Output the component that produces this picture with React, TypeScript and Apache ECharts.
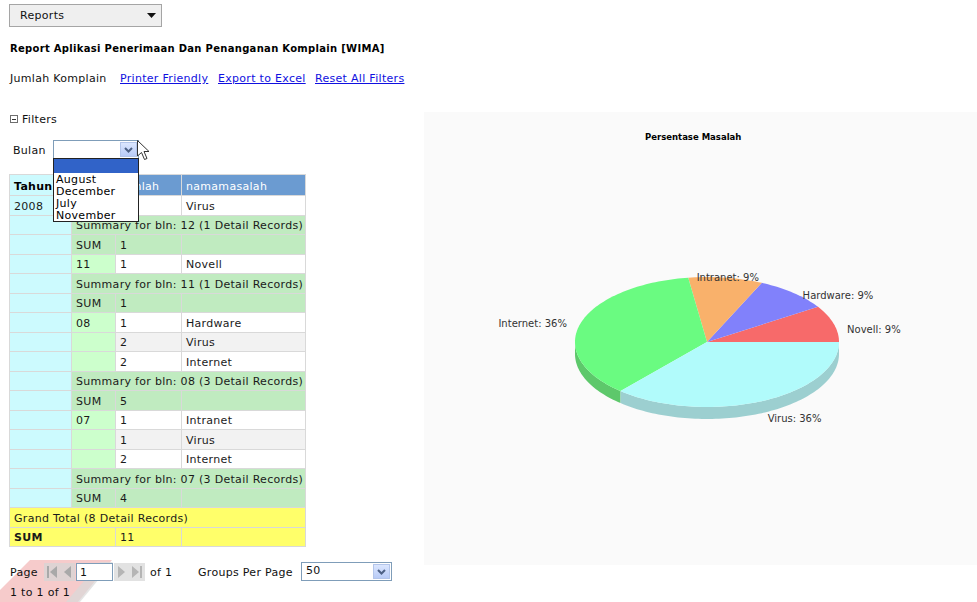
import React, { useEffect, useRef } from "react";
import * as echarts from "echarts";

// ---------- chart data ----------
const chartTitle = "Persentase Masalah";
const pieCategories = ["Novell", "Hardware", "Intranet", "Internet", "Virus"];
const pieValues = [1, 1, 1, 4, 4];
const pieColors = ["#f76a6a", "#8181fb", "#f9b16b", "#6afb81", "#b1fbfb"];
const pieSideColors = ["#c95656", "#6767cc", "#cc8f56", "#5dc86b", "#9ccfd0"];

// ---------- page / table data ----------
const menuLabel = "Reports";
const reportTitle = "Report Aplikasi Penerimaan Dan Penanganan Komplain [WIMA]";
const reportName = "Jumlah Komplain";
const linkLabels = ["Printer Friendly", "Export to Excel", "Reset All Filters"];
const filterLabel = "Bulan";
const monthOptions = ["August", "December", "July", "November"];
const headerLabels = ["Tahun", "bln", "jumlah", "namamasalah"];
const yearLabel = "2008";
const groupMonths = ["12", "11", "08", "07"];
const groupJumlah = [["1"], ["1"], ["1", "2", "2"], ["1", "1", "2"]];
const groupNama = [["Virus"], ["Novell"], ["Hardware", "Virus", "Internet"], ["Intranet", "Virus", "Internet"]];
const groupSums = ["1", "1", "5", "4"];
const grandSum = "11";
const pageValue = "1";
const pageCount = "1";
const groupsPerPage = "50";
const recordInfo = "1 to 1 of 1";

const FONT = "'DejaVu Sans', Verdana, sans-serif";

type Cell = {
  c0: number;
  c1: number;
  bg: string;
  text?: string;
  bold?: boolean;
  color?: string;
  covered?: boolean; // text hidden under the open dropdown list
  clipFrom?: number; // text partly hidden under the dropdown list
};

const colX = [10, 72, 116, 182, 306];
const C_CYAN = "#ccfafe";
const C_LGREEN = "#ccffcc";
const C_GREEN = "#c0ebc0";
const C_BLUE = "#6b9bd1";
const C_GRAY = "#f2f2f2";
const C_YELLOW = "#ffff6a";
const DROP_RIGHT = 139;

function buildRows(): Cell[][] {
  const rows: Cell[][] = [];
  let totalDetails = 0;
  groupMonths.forEach((m, gi) => {
    const jl = groupJumlah[gi];
    totalDetails += jl.length;
    jl.forEach((j, k) => {
      const bg = k % 2 === 1 ? C_GRAY : "#ffffff";
      const first = gi === 0 && k === 0;
      rows.push([
        { c0: 0, c1: 1, bg: C_CYAN, text: first ? yearLabel : "" },
        { c0: 1, c1: 2, bg: C_LGREEN, text: k === 0 ? m : "", covered: first },
        { c0: 2, c1: 3, bg, text: j, covered: first },
        { c0: 3, c1: 4, bg, text: groupNama[gi][k] },
      ]);
    });
    rows.push([
      { c0: 0, c1: 1, bg: C_CYAN },
      { c0: 1, c1: 4, bg: C_GREEN, text: `Summary for bln: ${m} (${jl.length} Detail Records)` },
    ]);
    rows.push([
      { c0: 0, c1: 1, bg: C_CYAN },
      { c0: 1, c1: 2, bg: C_GREEN, text: "SUM" },
      { c0: 2, c1: 3, bg: C_GREEN, text: groupSums[gi] },
      { c0: 3, c1: 4, bg: C_GREEN, text: "" },
    ]);
  });
  rows.push([{ c0: 0, c1: 4, bg: C_YELLOW, text: `Grand Total (${totalDetails} Detail Records)` }]);
  rows.push([
    { c0: 0, c1: 2, bg: C_YELLOW, text: "SUM", bold: true },
    { c0: 2, c1: 3, bg: C_YELLOW, text: grandSum },
    { c0: 3, c1: 4, bg: C_YELLOW, text: "" },
  ]);
  return rows;
}

const txt: React.CSSProperties = {
  position: "absolute",
  fontFamily: FONT,
  fontSize: 11,
  letterSpacing: 0.3,
  color: "#111",
  whiteSpace: "nowrap",
};

function PieChart() {
  const ref = useRef<HTMLDivElement>(null);
  useEffect(() => {
    if (!ref.current) return;
    const chart = echarts.init(ref.current, null, { renderer: "svg" });
    const total = pieValues.reduce((a, b) => a + b, 0);
    const starts: number[] = [];
    let acc = 0;
    pieValues.forEach((v) => {
      starts.push(acc);
      acc += v;
    });
    const cx = 283, cy = 230, rx = 132, ry = 65, depth = 12;
    const pt = (a: number, dy: number) => [cx + rx * Math.cos(a), cy - ry * Math.sin(a) + dy];
    const arc = (s: number, e: number, dy: number) => {
      const n = Math.max(2, Math.ceil((e - s) / (Math.PI / 120)));
      const out: number[][] = [];
      for (let k = 0; k <= n; k++) out.push(pt(s + ((e - s) * k) / n, dy));
      return out;
    };
    chart.setOption({
      animation: false,
      backgroundColor: "#fafafa",
      title: {
        text: chartTitle,
        left: 216,
        top: 15,
        textStyle: { fontFamily: FONT, fontWeight: "bold", fontSize: 8.5, color: "#000" },
      },
      series: [
        {
          type: "custom",
          coordinateSystem: "none",
          silent: true,
          data: pieValues.map((v, i) => ({ name: pieCategories[i], value: [starts[i], v] })),
          renderItem: (params: any, api: any) => {
            const i = params.dataIndex;
            const start = api.value(0) as number;
            const val = api.value(1) as number;
            const a0 = (start / total) * Math.PI * 2;
            const a1 = ((start + val) / total) * Math.PI * 2;
            const children: any[] = [];
            const s0 = Math.max(a0, Math.PI);
            const s1 = Math.min(a1, Math.PI * 2);
            if (s1 > s0) {
              children.push({
                type: "polygon",
                z2: 1,
                shape: { points: [...arc(s0, s1, 0), ...arc(s0, s1, depth).reverse()] },
                style: { fill: pieSideColors[i] },
              });
            }
            children.push({
              type: "polygon",
              z2: 2,
              shape: { points: [[cx, cy], ...arc(a0, a1, 0)] },
              style: { fill: pieColors[i] },
            });
            const mid = (a0 + a1) / 2;
            const c = Math.cos(mid), s = Math.sin(mid);
            const lx = cx + (rx + 14) * c;
            const ly = s >= 0 ? cy - (ry + 5) * s + 4 + 3 * c : cy + ry * -s + depth + 5;
            const pct = Math.round((val / total) * 100);
            children.push({
              type: "text",
              z2: 3,
              style: {
                text: `${pieCategories[i]}: ${pct}%`,
                x: lx,
                y: ly,
                align: Math.abs(c) < 0.2 ? "center" : c > 0 ? "left" : "right",
                verticalAlign: "middle",
                fill: "#333",
                font: `10px ${FONT}`,
              },
            });
            return { type: "group", children };
          },
        },
      ],
    } as any);
    return () => chart.dispose();
  }, []);
  return (
    <div
      ref={ref}
      style={{ position: "absolute", left: 424, top: 112, width: 553, height: 453 }}
    />
  );
}

function Chevron({ left, top }: { left: number; top: number }) {
  return (
    <div
      style={{
        position: "absolute",
        left,
        top,
        width: 17,
        height: 15,
        background: "linear-gradient(#dbe6fe, #b8cbf7)",
        border: "1px solid #b3c5ea",
        boxSizing: "border-box",
      }}
    >
      <svg width="15" height="13" style={{ position: "absolute", left: 0, top: 0 }}>
        <polyline points="4,5 7.5,8.5 11,5" fill="none" stroke="#4d6185" strokeWidth="2" />
      </svg>
    </div>
  );
}

export default function App() {
  const rows = buildRows();
  const headerTop = 175;
  const headerH = 21;
  const rowH = 19.5;
  const cellBorder = "#d9d9d9";
  const textLine = 12;

  const renderCell = (cell: Cell, top: number, h: number, key: string) => {
    const left = colX[cell.c0];
    const width = colX[cell.c1] - colX[cell.c0];
    const textStyle: React.CSSProperties = {
      position: "absolute",
      top: (h - textLine) / 2 + 1,
      lineHeight: `${textLine}px`,
      fontFamily: FONT,
      fontSize: 11,
      letterSpacing: 0.3,
      fontWeight: cell.bold ? "bold" : "normal",
      color: cell.color || "#1a1a1a",
      whiteSpace: "nowrap",
    };
    return (
      <div
        key={key}
        style={{
          position: "absolute",
          left,
          top,
          width,
          height: h,
          background: cell.bg,
          borderRight: `1px solid ${cellBorder}`,
          borderBottom: `1px solid ${cellBorder}`,
          boxSizing: "border-box",
          overflow: "hidden",
        }}
      >
        {cell.covered ? null : cell.clipFrom !== undefined ? (
          <div
            style={{
              position: "absolute",
              left: cell.clipFrom - left,
              top: 0,
              width: width - (cell.clipFrom - left),
              height: h,
              overflow: "hidden",
            }}
          >
            <div style={{ ...textStyle, left: left + 4 - cell.clipFrom }}>{cell.text}</div>
          </div>
        ) : (
          <div style={{ ...textStyle, left: 4 }}>{cell.text}</div>
        )}
      </div>
    );
  };

  return (
    <div
      style={{
        position: "fixed",
        left: 0,
        top: 0,
        width: 977,
        height: 602,
        background: "#fff",
        overflow: "hidden",
      }}
    >
      {/* watermark */}
      <svg width="140" height="60" style={{ position: "absolute", left: 0, top: 545 }}>
        <polygon points="30,15 112,15 78,57 0,57 0,45" fill="#e04545" opacity="0.28" />
        <polygon points="100,17 113,17 80,57 66,57" fill="#d8d8d8" opacity="0.7" />
      </svg>

      {/* Reports menu */}
      <div
        style={{
          position: "absolute",
          left: 9,
          top: 4,
          width: 153,
          height: 23,
          background: "#efefef",
          border: "1px solid #a5a5a5",
          boxSizing: "border-box",
        }}
      />
      <div style={{ ...txt, left: 20, top: 8, lineHeight: "15px" }}>{menuLabel}</div>
      <svg width="12" height="8" style={{ position: "absolute", left: 146, top: 12 }}>
        <polygon points="1,1 10,1 5.5,6" fill="#111" />
      </svg>

      {/* title */}
      <div style={{ ...txt, left: 10, top: 42, fontSize: 10, fontWeight: "bold", lineHeight: "14px", color: "#000" }}>
        {reportTitle}
      </div>

      {/* report name & links */}
      <div style={{ ...txt, left: 10, top: 72, lineHeight: "14px" }}>{reportName}</div>
      {linkLabels.map((l, i) => (
        <div
          key={l}
          style={{
            ...txt,
            left: [120, 218, 315][i],
            top: 72,
            lineHeight: "14px",
            color: "#1010e0",
            textDecoration: "underline",
          }}
        >
          {l}
        </div>
      ))}

      {/* Filters */}
      <div
        style={{
          position: "absolute",
          left: 10,
          top: 115,
          width: 8,
          height: 8,
          border: "1px solid #6e6e6e",
          boxSizing: "border-box",
          background: "#fff",
        }}
      >
        <div style={{ position: "absolute", left: 1, top: 2.5, width: 4, height: 1, background: "#333" }} />
      </div>
      <div style={{ ...txt, left: 22, top: 113, lineHeight: "14px" }}>Filters</div>

      {/* Bulan select */}
      <div style={{ ...txt, left: 13, top: 144, lineHeight: "14px" }}>{filterLabel}</div>
      <div
        style={{
          position: "absolute",
          left: 53,
          top: 140,
          width: 86,
          height: 19,
          border: "1px solid #7f9db9",
          boxSizing: "border-box",
          background: "#fff",
        }}
      />
      <Chevron left={120} top={142} />

      {/* table header */}
      {headerLabels.map((h, i) =>
        renderCell(
          {
            c0: i,
            c1: i + 1,
            bg: i === 0 ? C_CYAN : C_BLUE,
            text: h,
            bold: i === 0,
            color: i === 0 ? "#000" : "#fff",
            covered: i === 1,
            clipFrom: i === 2 ? DROP_RIGHT : undefined,
          },
          headerTop,
          headerH,
          "h" + i
        )
      )}
      {/* table body */}
      {rows.map((r, ri) =>
        r.map((cell, ci) => renderCell(cell, headerTop + headerH + ri * rowH, rowH, `r${ri}c${ci}`))
      )}
      <div
        style={{
          position: "absolute",
          left: 9,
          top: headerTop - 1,
          width: 297,
          height: headerH + rows.length * rowH + 1,
          borderLeft: `1px solid ${cellBorder}`,
          borderTop: `1px solid ${cellBorder}`,
          boxSizing: "border-box",
          pointerEvents: "none",
        }}
      />

      {/* dropdown list */}
      <div
        style={{
          position: "absolute",
          left: 53,
          top: 158,
          width: 86,
          height: 64,
          border: "1px solid #222",
          boxSizing: "border-box",
          background: "#fff",
        }}
      >
        <div style={{ position: "absolute", left: 0, top: 0, width: 84, height: 14, background: "#3163c8" }} />
        {monthOptions.map((m, i) => (
          <div key={m} style={{ ...txt, left: 2, top: 15.5 + i * 12, lineHeight: "9px", color: "#000" }}>
            {m}
          </div>
        ))}
      </div>

      {/* cursor */}
      <svg width="14" height="22" style={{ position: "absolute", left: 137, top: 140 }}>
        <polygon
          points="0.5,0.5 0.5,16 4.5,12.5 7.5,19.5 10,18.5 7,11.5 12,11.5"
          fill="#fff"
          stroke="#333"
          strokeWidth="1"
        />
      </svg>

      {/* pager */}
      <div style={{ ...txt, left: 10, top: 566, lineHeight: "14px" }}>Page</div>
      <div
        style={{
          position: "absolute",
          left: 44,
          top: 563,
          width: 31,
          height: 18,
          background: "#d6d6d6",
          opacity: 0.75,
        }}
      />
      <svg width="31" height="18" style={{ position: "absolute", left: 44, top: 563 }}>
        <rect x="3" y="3" width="2" height="12" fill="#a9a9a9" />
        <polygon points="13,3 13,15 6,9" fill="#a9a9a9" />
        <polygon points="27,3 27,15 20,9" fill="#a9a9a9" />
      </svg>
      <div
        style={{
          position: "absolute",
          left: 76,
          top: 563,
          width: 37,
          height: 18,
          border: "1px solid #7f9db9",
          boxSizing: "border-box",
          background: "#fff",
        }}
      />
      <div style={{ ...txt, left: 80, top: 566, lineHeight: "14px" }}>{pageValue}</div>
      <div
        style={{
          position: "absolute",
          left: 114,
          top: 563,
          width: 31,
          height: 18,
          background: "#e2e2e2",
        }}
      />
      <svg width="31" height="18" style={{ position: "absolute", left: 114, top: 563 }}>
        <polygon points="4,3 4,15 11,9" fill="#b5b5b5" />
        <polygon points="18,3 18,15 25,9" fill="#b5b5b5" />
        <rect x="26" y="3" width="2" height="12" fill="#b5b5b5" />
      </svg>
      <div style={{ ...txt, left: 150, top: 566, lineHeight: "14px" }}>of {pageCount}</div>
      <div style={{ ...txt, left: 198, top: 566, lineHeight: "14px" }}>Groups Per Page</div>
      <div
        style={{
          position: "absolute",
          left: 301,
          top: 562,
          width: 91,
          height: 19,
          border: "1px solid #7f9db9",
          boxSizing: "border-box",
          background: "#fff",
        }}
      />
      <div style={{ ...txt, left: 306, top: 564, lineHeight: "14px" }}>{groupsPerPage}</div>
      <Chevron left={373} top={564} />
      <div style={{ ...txt, left: 10, top: 586, lineHeight: "14px" }}>{recordInfo}</div>

      <PieChart />
    </div>
  );
}
